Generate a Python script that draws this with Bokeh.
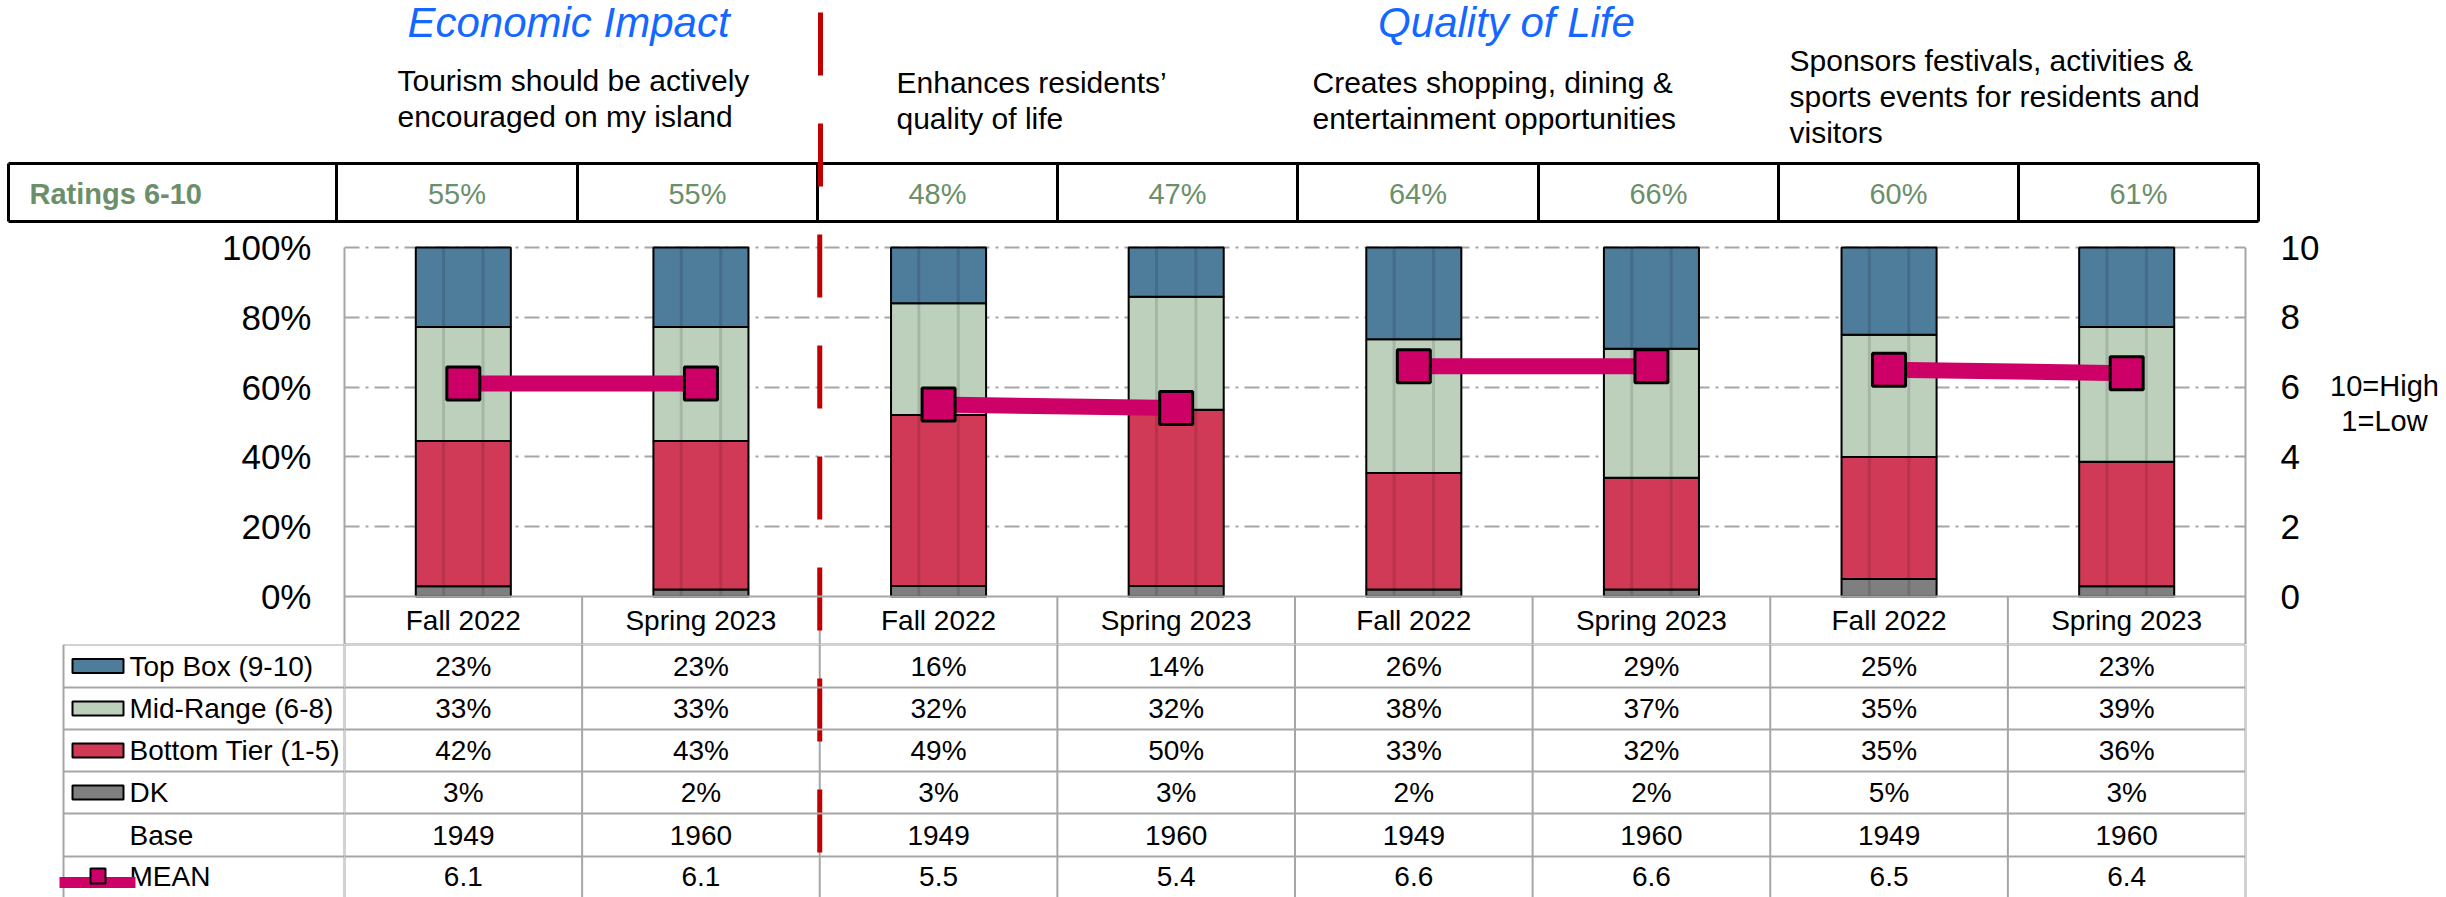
from bokeh.plotting import figure
from bokeh.layouts import column, row
from bokeh.models import (ColumnDataSource, FactorRange, Range1d, LinearAxis, FixedTicker,
                          Span, PrintfTickFormatter)
from bokeh.transform import dodge
from bokeh.core.properties import value
from bokeh.embed import file_html
from bokeh.resources import INLINE

# ---------------- data ----------------
sections = ["Economic Impact", "Quality of Life"]
question_lines = [
    ["Tourism should be actively", "encouraged on my island"],
    ["Enhances residents\u2019", "quality of life"],
    ["Creates shopping, dining &", "entertainment opportunities"],
    ["Sponsors festivals, activities &", "sports events for residents and", "visitors"],
]
periods = ["Fall 2022", "Spring 2023", "Fall 2022", "Spring 2023",
           "Fall 2022", "Spring 2023", "Fall 2022", "Spring 2023"]
question_ids = ["Q1", "Q1", "Q2", "Q2", "Q3", "Q3", "Q4", "Q4"]
ratings_label = "Ratings 6-10"
ratings_6_10 = [55, 55, 48, 47, 64, 66, 60, 61]
top_box = [23, 23, 16, 14, 26, 29, 25, 23]
mid_range = [33, 33, 32, 32, 38, 37, 35, 39]
bottom_tier = [42, 43, 49, 50, 33, 32, 35, 36]
dont_know = [3, 2, 3, 3, 2, 2, 5, 3]
base = [1949, 1960, 1949, 1960, 1949, 1960, 1949, 1960]
mean = [6.1, 6.1, 5.5, 5.4, 6.6, 6.6, 6.5, 6.4]
series_names = ["Top Box (9-10)", "Mid-Range (6-8)", "Bottom Tier (1-5)", "DK"]
row_names = series_names + ["Base", "MEAN"]
scale_note = ["10=High", "1=Low"]
pct_ticks = [0, 20, 40, 60, 80, 100]
mean_ticks = [0, 2, 4, 6, 8, 10]

# ---------------- styles / layout (page pixels) ----------------
C_TOP, C_MID, C_BOT, C_DK = "#4E7C9B", "#BCD0BC", "#D13A56", "#7F7F7F"
C_MEAN = "#CC0066"
GRID = "#A6A6A6"
GREEN = "#6A8F6A"
BLUE = "#1467FF"
RED = "#C00000"
FONT = value("Liberation Sans")
PAGE_L, PAGE_R, PAGE_T, PAGE_B = 0, 2446, 0, 897
FL, FR, FT, FB = 344, 2245, 247, 596      # 0..100 % plot area
Y_TOP_SPLIT, Y_BOT_SPLIT = 224, 644       # figure row splits
X_NOTE = 2326
RED_X, RED_Y0, RED_Y1 = 820, 12, 858
RED_DASH = "63 48"


def pct_of_page(Y):
    return (FB - Y) / (FB - FT) * 100.0


def deco_fig(x0, x1, y0, y1, x_range=None):
    f = figure(width=int(x1 - x0), height=int(y1 - y0), output_backend="svg",
               toolbar_location=None, x_axis_location=None, y_axis_location=None,
               x_range=x_range if x_range is not None else Range1d(x0, x1),
               y_range=Range1d(y1, y0), min_border=0, min_border_left=0,
               min_border_right=0, min_border_top=0, min_border_bottom=0)
    f.outline_line_color = None
    f.background_fill_color = "white"
    f.border_fill_color = "white"
    f.xgrid.grid_line_color = None
    f.ygrid.grid_line_color = None
    return f


def txt(f, xs, ys, texts, size, color="black", align="left", style="normal"):
    f.text(x=xs, y=ys, text=texts, text_font=FONT, text_font_size=size,
           text_color=color, text_align=align, text_baseline="middle",
           text_font_style=style)


xf = [f"{p} \u00b7 {q}" for p, q in zip(periods, question_ids)]
totals = [a + b + c + d for a, b, c, d in zip(dont_know, bottom_tier, mid_range, top_box)]
# 100% stacked column: each segment is its share of the bar total
src = ColumnDataSource(dict(
    x=xf,
    dk=[v / t * 100 for v, t in zip(dont_know, totals)],
    bot=[v / t * 100 for v, t in zip(bottom_tier, totals)],
    mid=[v / t * 100 for v, t in zip(mid_range, totals)],
    top=[v / t * 100 for v, t in zip(top_box, totals)],
    mean=mean, period=periods))
x_range = FactorRange(factors=xf, range_padding=0, factor_padding=0)

# ================= chart figure =================
y_lo, y_hi = pct_of_page(Y_BOT_SPLIT), pct_of_page(Y_TOP_SPLIT)
chart_w = X_NOTE - PAGE_L
p = figure(width=chart_w, height=Y_BOT_SPLIT - Y_TOP_SPLIT, output_backend="svg",
           toolbar_location=None, x_range=x_range, y_range=Range1d(y_lo, y_hi),
           x_axis_location=None,
           min_border_left=FL - PAGE_L, min_border_right=chart_w - (FR - PAGE_L),
           min_border_top=0, min_border_bottom=0)
p.outline_line_color = None
p.background_fill_color = "white"
p.border_fill_color = "white"
p.extra_y_ranges = {"mean": Range1d(y_lo / 10, y_hi / 10)}

p.xgrid.grid_line_color = None
p.ygrid.ticker = FixedTicker(ticks=pct_ticks[1:])
p.ygrid.grid_line_color = GRID
p.ygrid.grid_line_width = 2
p.ygrid.grid_line_dash = "15 6 3 6"

ya = p.yaxis[0]
ya.ticker = FixedTicker(ticks=pct_ticks)
ya.formatter = PrintfTickFormatter(format="%d%%")
ya.bounds = (y_lo, 100)
ra = LinearAxis(y_range_name="mean", ticker=FixedTicker(ticks=mean_ticks))
ra.bounds = (y_lo / 10, 10)
p.add_layout(ra, "right")
for ax, standoff in ((ya, 33), (ra, 35)):
    ax.axis_line_color = GRID
    ax.axis_line_width = 2
    ax.major_tick_line_color = None
    ax.minor_tick_line_color = None
    ax.major_tick_out = 0
    ax.major_tick_in = 0
    ax.major_label_standoff = standoff
    ax.major_label_text_font = "Liberation Sans"
    ax.major_label_text_font_size = "35px"
    ax.major_label_text_color = "black"

# header row of the table (category labels) inside the chart figure
p.add_layout(Span(location=0, dimension="width", line_color=GRID, line_width=2))
p.add_layout(Span(location=y_lo, dimension="width", line_color=GRID, line_width=2))
bnd = ColumnDataSource(dict(x=xf[1:]))
p.segment(x0=dodge("x", -0.5, range=x_range), y0=0, x1=dodge("x", -0.5, range=x_range),
          y1=y_lo, source=bnd, line_color=GRID, line_width=2)
p.text(x="x", y=pct_of_page(620), text="period", source=src, text_font=FONT,
       text_font_size="28px", text_align="center", text_baseline="middle",
       text_color="black")

# bars
p.vbar_stack(["dk", "bot", "mid", "top"], x="x", width=0.4, source=src,
             color=[C_DK, C_BOT, C_MID, C_TOP], line_color="black", line_width=2)
for off in (-0.083, 0.083):
    p.segment(x0=dodge("x", off, range=x_range), y0=0,
              x1=dodge("x", off, range=x_range), y1=100, source=src,
              line_color="black", line_alpha=0.12, line_width=3)

# mean line + markers
pair_src = ColumnDataSource(dict(x0=xf[0::2], x1=xf[1::2], y0=mean[0::2], y1=mean[1::2]))
p.segment("x0", "y0", "x1", "y1", source=pair_src, y_range_name="mean",
          line_color=C_MEAN, line_width=16)
p.scatter("x", "mean", source=src, y_range_name="mean", marker="square", size=33,
          fill_color=C_MEAN, line_color="black", line_width=3)

# red divider (chart part)
red_src = ColumnDataSource(dict(x=[xf[2]]))
p.segment(x0=dodge("x", -0.5, range=x_range), y0=pct_of_page(RED_Y0),
          x1=dodge("x", -0.5, range=x_range), y1=pct_of_page(RED_Y1), source=red_src,
          line_color=RED, line_width=5, line_dash=RED_DASH)

# ================= note figure (right) =================
note = deco_fig(X_NOTE, PAGE_R, Y_TOP_SPLIT, Y_BOT_SPLIT)
txt(note, [2384, 2384], [385, 420], scale_note, "29px", "black", "center")

# ================= top figure =================
top = deco_fig(PAGE_L, PAGE_R, PAGE_T, Y_TOP_SPLIT)
txt(top, [568, 1506], [22, 22], sections, "42px", BLUE, "center", "italic")
q_x = [397, 896, 1312, 1789]
q_y0 = [80, 82, 82, 60]
lx, ly, lt = [], [], []
for qi, lines in enumerate(question_lines):
    for li, line in enumerate(lines):
        lx.append(q_x[qi])
        ly.append(q_y0[qi] + 36 * li)
        lt.append(line)
txt(top, lx, ly, lt, "30px")
rb_x = [8, 336, 577, 817, 1057, 1297, 1538, 1778, 2018, 2258]
top.segment(x0=[rb_x[0]] * 2, y0=[163, 221], x1=[rb_x[-1]] * 2, y1=[163, 221],
            line_color="black", line_width=3)
top.segment(x0=rb_x, y0=[163] * len(rb_x), x1=rb_x, y1=[221] * len(rb_x),
            line_color="black", line_width=3)
txt(top, [29], [193], [ratings_label], "29px", GREEN, "left", "bold")
cell_c = [(a + b) / 2 for a, b in zip(rb_x[1:-1], rb_x[2:])]
txt(top, cell_c, [193] * len(cell_c), [f"{v}%" for v in ratings_6_10], "29px", GREEN, "center")
top.segment(x0=[RED_X], y0=[RED_Y0], x1=[RED_X], y1=[RED_Y1], line_color=RED,
            line_width=5, line_dash=RED_DASH)

# ================= bottom: legend column =================
row_lines = [644, 687, 729, 771, 813, 856]
row_mid = [665.5, 708, 750, 792, 834.5, 876]
leg = deco_fig(PAGE_L, FL, Y_BOT_SPLIT, PAGE_B)
leg.segment(x0=[63] * len(row_lines), y0=row_lines, x1=[FL] * len(row_lines), y1=row_lines,
            line_color=GRID, line_width=2)
leg.segment(x0=[63, FL], y0=[644, 644], x1=[63, FL], y1=[PAGE_B, PAGE_B],
            line_color=GRID, line_width=2)
txt(leg, [129] * len(row_names), row_mid, row_names, "28px")
leg.rect(x=[97.5] * 4, y=row_mid[:4], width=51, height=14,
         fill_color=[C_TOP, C_MID, C_BOT, C_DK], line_color="black", line_width=2)
leg.segment(x0=[59], y0=[882], x1=[135], y1=[882], line_color=C_MEAN, line_width=11)
leg.rect(x=[97.5], y=[875.5], width=15, height=15, fill_color=C_MEAN,
         line_color="black", line_width=2)

# ================= bottom: table values =================
tab = deco_fig(FL, FR, Y_BOT_SPLIT, PAGE_B, x_range=x_range)
for Y in row_lines:
    tab.add_layout(Span(location=Y, dimension="width", line_color=GRID, line_width=2))
edge_src = ColumnDataSource(dict(x=xf))
tab.segment(x0=dodge("x", -0.5, range=x_range), y0=644, x1=dodge("x", -0.5, range=x_range),
            y1=PAGE_B, source=edge_src, line_color=GRID, line_width=2)
tab.segment(x0=dodge("x", 0.5, range=x_range), y0=644, x1=dodge("x", 0.5, range=x_range),
            y1=PAGE_B, source=ColumnDataSource(dict(x=xf[-1:])), line_color=GRID, line_width=2)
rows = [[f"{v}%" for v in top_box], [f"{v}%" for v in mid_range],
        [f"{v}%" for v in bottom_tier], [f"{v}%" for v in dont_know],
        [str(v) for v in base], [f"{v:.1f}" for v in mean]]
tx, ty, tt = [], [], []
for r, vals in enumerate(rows):
    for i, t in enumerate(vals):
        tx.append(xf[i])
        ty.append(row_mid[r])
        tt.append(t)
txt(tab, tx, ty, tt, "28px", "black", "center")
tab.segment(x0=dodge("x", -0.5, range=x_range), y0=RED_Y0, x1=dodge("x", -0.5, range=x_range),
            y1=RED_Y1, source=red_src, line_color=RED, line_width=5, line_dash=RED_DASH)

# ================= bottom: right edge =================
rgt = deco_fig(FR, PAGE_R, Y_BOT_SPLIT, PAGE_B)
rgt.segment(x0=[FR], y0=[644], x1=[FR], y1=[PAGE_B], line_color=GRID, line_width=2)

layout = column(top, row(p, note, spacing=0), row(leg, tab, rgt, spacing=0), spacing=0)
open("out.html", "w").write(file_html(layout, INLINE))
